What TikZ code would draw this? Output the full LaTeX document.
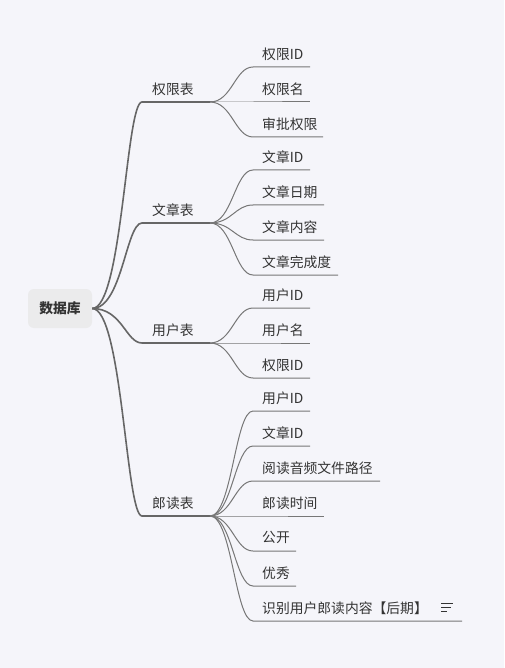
\documentclass[tikz,border=0pt]{standalone}
\usepackage{fontspec}
\setmainfont{Noto Sans CJK SC}
\usetikzlibrary{calc}
\definecolor{bg}{HTML}{F5F5FA}
\definecolor{rootfill}{HTML}{EBEBEC}
\definecolor{txt}{HTML}{333333}
\definecolor{lnone}{HTML}{666666}
\definecolor{lntwo}{HTML}{777777}
\tikzset{
  rootbox/.style={fill=rootfill, rounded corners=6pt, minimum width=64pt, minimum height=39pt, inner sep=0pt, text=txt, font=\fontsize{13.8}{16}\selectfont\bfseries},
  midnode/.style={anchor=west, inner sep=0pt, text=txt, font=\fontsize{13.8}{16}\selectfont},
  leaf/.style={anchor=west, inner sep=0pt, text=txt, font=\fontsize{13.8}{16}\selectfont},
  lineone/.style={draw=lnone, line width=1.6pt},
  linetwo/.style={draw=lntwo, line width=1pt},
}
\begin{document}
\begin{tikzpicture}[x=1pt,y=-1pt]
\fill[bg] (0,0) rectangle (504,668);
\useasboundingbox (0,0) rectangle (504,668);

\node[rootbox] (root) at (60,308.5) {数据库};

% level one
\foreach \k/\t/\y in {1/权限表/102, 2/文章表/223, 3/用户表/343, 4/郎读表/516} {
  \node[midnode] (t\k) at (152,\y-13.2) {\t};
  \coordinate (t\k a) at (142,\y);
  \coordinate (t\k b) at (210,\y);
  \draw[lineone] (root.east) .. controls ($(root.east)+(30,0)$) and ($(t\k a)+(-16,0)$) .. (t\k a) -- (t\k b);
}

% children of 权限表
\foreach \i/\t/\y/\e in {1/权限ID/67/310, 2/权限名/102/310, 3/审批权限/137/323} {
  \node[leaf] (a\i) at (262,\y-13.2) {\t};
  \coordinate (a\i s) at (253,\y);
  \coordinate (a\i e) at (\e,\y);
  \draw[linetwo] (t1b) .. controls ($(t1b)+(22,0)$) and ($(a\i s)+(-18,0)$) .. (a\i s) -- (a\i e);
}
% children of 文章表
\foreach \i/\t/\y/\e in {1/文章ID/170/310, 2/文章日期/205/324, 3/文章内容/240/324, 4/文章完成度/275/338} {
  \node[leaf] (b\i) at (262,\y-13.2) {\t};
  \coordinate (b\i s) at (253,\y);
  \coordinate (b\i e) at (\e,\y);
  \draw[linetwo] (t2b) .. controls ($(t2b)+(22,0)$) and ($(b\i s)+(-18,0)$) .. (b\i s) -- (b\i e);
}
% children of 用户表
\foreach \i/\t/\y/\e in {1/用户ID/308/310, 2/用户名/343/310, 3/权限ID/378/310} {
  \node[leaf] (c\i) at (262,\y-13.2) {\t};
  \coordinate (c\i s) at (253,\y);
  \coordinate (c\i e) at (\e,\y);
  \draw[linetwo] (t3b) .. controls ($(t3b)+(22,0)$) and ($(c\i s)+(-18,0)$) .. (c\i s) -- (c\i e);
}
% children of 郎读表
\foreach \i/\t/\y/\e in {1/用户ID/411/310, 2/文章ID/446/310, 3/阅读音频文件路径/481/380, 4/郎读时间/516/324, 5/公开/551/296, 6/优秀/586/296, 7/识别用户郎读内容【后期】/621/462} {
  \node[leaf] (d\i) at (262,\y-13.2) {\t};
  \coordinate (d\i s) at (253,\y);
  \coordinate (d\i e) at (\e,\y);
  \draw[linetwo] (t4b) .. controls ($(t4b)+(22,0)$) and ($(d\i s)+(-18,0)$) .. (d\i s) -- (d\i e);
}

% note icon
\coordinate (n1) at (441,603.5);
\coordinate (n2) at (441,607.5);
\coordinate (n3) at (441,611.5);
\draw[draw=txt, line width=1pt] (n1) -- ++(12,0) (n2) -- ++(10,0) (n3) -- ++(6,0);
\end{tikzpicture}
\end{document}
